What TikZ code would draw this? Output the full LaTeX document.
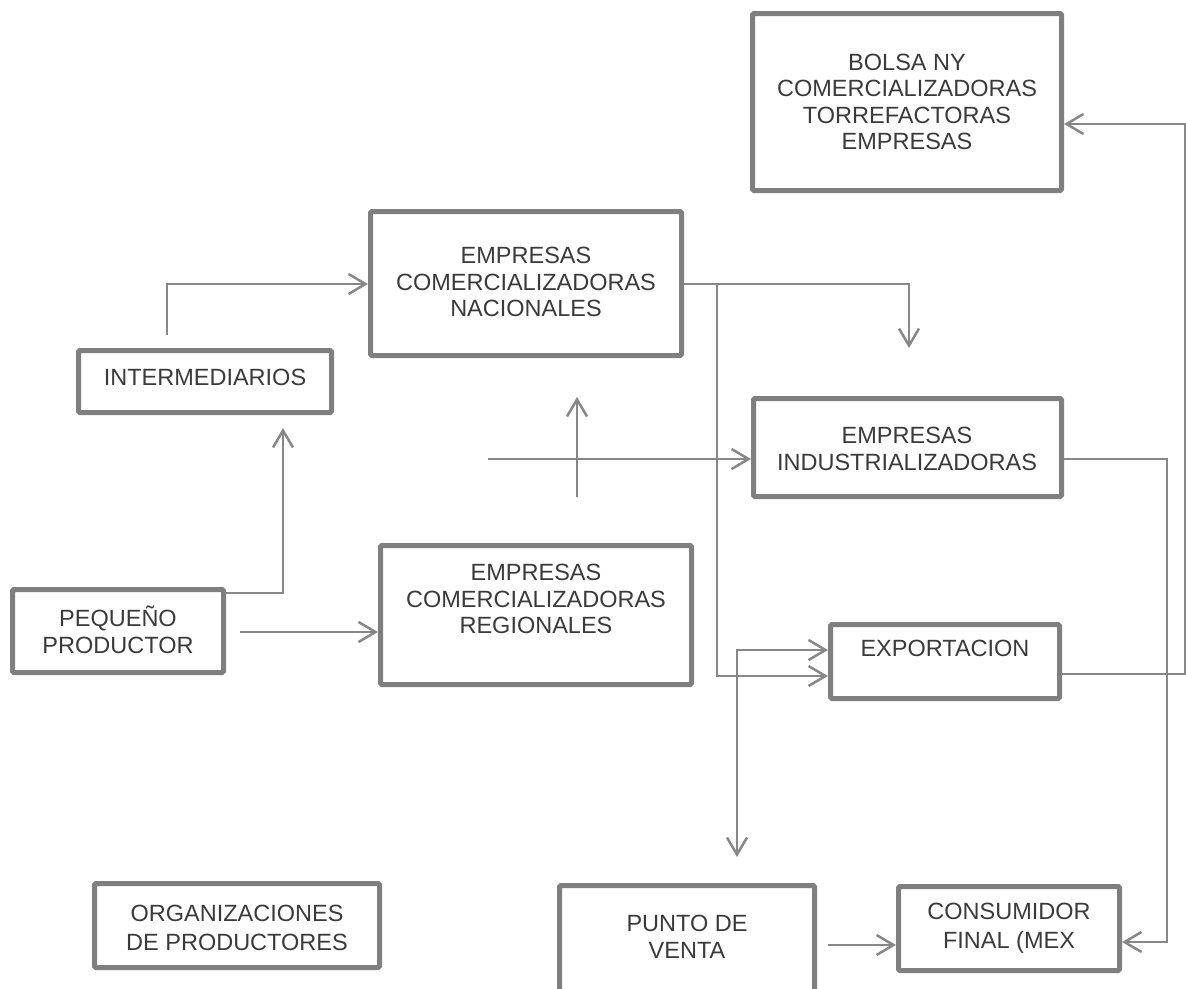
\documentclass[tikz,border=0pt]{standalone}
\usepackage{fontspec}
\setmainfont{Liberation Sans}
\usetikzlibrary{arrows.meta}
\definecolor{boxgray}{HTML}{7F7F7F}
\definecolor{linegray}{HTML}{878787}
\definecolor{txtgray}{HTML}{3A3A3A}
\begin{document}
\begin{tikzpicture}[x=1pt,y=-1pt,
  box/.style={draw=boxgray, line width=5pt, rounded corners=1.5pt, inner sep=0pt},
  txt/.style={align=center, text=txtgray, font=\fontsize{23.5}{26.5}\selectfont, inner sep=0pt},
  conn/.style={draw=linegray, line width=2.5pt},
  arr/.style={conn, -{Straight Barb[length=17pt,width=20pt]}},
  darr/.style={conn, {Straight Barb[length=17pt,width=20pt]}-{Straight Barb[length=17pt,width=20pt]}}
]
\useasboundingbox (0,0) rectangle (1186,988);

% boxes
\node[box, minimum width=309pt, minimum height=177pt] (bolsa) at (907,102) {};
\node[box, minimum width=311pt, minimum height=144pt] (nac) at (526,283.5) {};
\node[box, minimum width=253pt, minimum height=62pt] (inter) at (205,381.5) {};
\node[box, minimum width=308pt, minimum height=98pt] (ind) at (907.5,447.5) {};
\node[box, minimum width=211pt, minimum height=83pt] (peq) at (118,631) {};
\node[box, minimum width=311pt, minimum height=139pt] (reg) at (536,615) {};
\node[box, minimum width=229pt, minimum height=74pt] (exp) at (945,661.5) {};
\node[box, minimum width=285pt, minimum height=84pt] (org) at (237,925.5) {};
\node[box, minimum width=255pt, minimum height=122pt] (pv) at (687,946.5) {};
\node[box, minimum width=221pt, minimum height=84pt] (cons) at (1009,928.5) {};

% texts
\node[txt] (tbolsa) at (907,102) {BOLSA NY\\COMERCIALIZADORAS\\TORREFACTORAS\\EMPRESAS};
\node[txt] (tnac) at (526,282) {EMPRESAS\\COMERCIALIZADORAS\\NACIONALES};
\node[txt] (tinter) at (205,377) {INTERMEDIARIOS};
\node[txt] (tind) at (907,449) {EMPRESAS\\INDUSTRIALIZADORAS};
\node[txt] (tpeq) at (118,630) {PEQUEÑO\\PRODUCTOR};
\node[txt] (treg) at (536,599) {EMPRESAS\\COMERCIALIZADORAS\\REGIONALES};
\node[txt] (texp) at (945,648) {EXPORTACION};
\node[txt] (torg) at (237,928) {ORGANIZACIONES\\[2pt]DE PRODUCTORES};
\node[txt] (tpv) at (687,937) {PUNTO DE\\VENTA};
\node[txt] (tcons) at (1009,928) {CONSUMIDOR\\[3pt]FINAL (MEX};

% free-end coordinates
\coordinate (c1) at (167,335);
\coordinate (c1y) at (0,284);
\coordinate (c2) at (283,428);
\coordinate (c2y) at (0,593);
\coordinate (c3) at (240,632);
\coordinate (c4) at (909,348);
\coordinate (b1) at (717,284);
\coordinate (b1y) at (0,676);
\coordinate (c6) at (737,857);
\coordinate (c6y) at (0,650);
\coordinate (c7) at (488,459);
\coordinate (c8a) at (577,497);
\coordinate (c8b) at (577,397);
\coordinate (r1) at (1167,459);
\coordinate (r1y) at (0,942);
\coordinate (r2) at (1185,674);
\coordinate (r2y) at (0,124);
\coordinate (c10) at (828,945);

% connectors
\draw[arr] (c1) |- (nac.west |- c1y);
\draw[arr] (peq.east |- c2y) -| (c2);
\draw[arr] (c3) -- (reg.west |- c3);
\draw[arr] (nac.east |- c1y) -| (c4);
\draw[arr] (b1) |- (exp.west |- b1y);
\draw[darr] (c6) |- (exp.west |- c6y);
\draw[arr] (c7) -- (ind.west |- c7);
\draw[arr] (c8a) -- (c8b);
\draw[arr] (ind.east |- r1) -- (r1) |- (cons.east |- r1y);
\draw[arr] (exp.east |- r2) -- (r2) |- (bolsa.east |- r2y);
\draw[arr] (c10) -- (cons.west |- c10);
\end{tikzpicture}
\end{document}
